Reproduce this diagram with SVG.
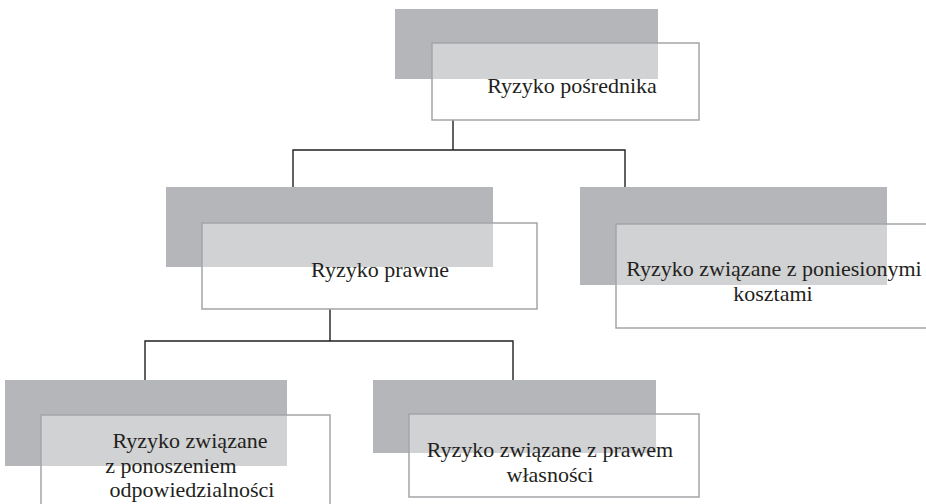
<svg xmlns="http://www.w3.org/2000/svg" width="926" height="504" viewBox="0 0 926 504">
<style>
.sh{fill:#b5b6b9}
.bx{fill:#ffffff;fill-opacity:0.38;stroke:#a3a5a8;stroke-width:1.5}
.t{font-family:"Liberation Serif","Times New Roman",serif;font-size:22px;fill:#231f20;text-anchor:middle}
.c{fill:none;stroke:#231f20;stroke-width:1.4}
</style>
<rect width="926" height="504" fill="#ffffff"/>
<g id="connectors">
<path class="c" d="M453,120V150M293,187V150H625V187"/>
<path class="c" d="M330,309V341M145,380V341H513V380"/>
</g>
<g id="node-root">
<rect class="sh" x="395" y="9" width="263" height="70"/>
<rect class="bx" x="432" y="43" width="267" height="77"/>
<text class="t" x="572" y="93">Ryzyko pośrednika</text>
</g>
<g id="node-prawne">
<rect class="sh" x="166" y="187" width="327" height="80"/>
<rect class="bx" x="202" y="223" width="335" height="86"/>
<text class="t" x="380" y="277">Ryzyko prawne</text>
</g>
<g id="node-koszty">
<rect class="sh" x="580" y="187" width="307" height="98"/>
<rect class="bx" x="616" y="224" width="320" height="104"/>
<text class="t" x="774" y="276">Ryzyko związane z poniesionymi</text>
<text class="t" x="773" y="301">kosztami</text>
</g>
<g id="node-odpowiedzialnosc">
<rect class="sh" x="5" y="380" width="282" height="86"/>
<rect class="bx" x="41" y="415" width="289" height="100"/>
<text class="t" x="190" y="448">Ryzyko związane</text>
<text class="t" x="171" y="472.5">z ponoszeniem</text>
<text class="t" x="192" y="497">odpowiedzialności</text>
</g>
<g id="node-wlasnosc">
<rect class="sh" x="373" y="380" width="283" height="73"/>
<rect class="bx" x="409" y="414" width="290" height="83"/>
<text class="t" x="550" y="457">Ryzyko związane z prawem</text>
<text class="t" x="550" y="481.5">własności</text>
</g>
</svg>
